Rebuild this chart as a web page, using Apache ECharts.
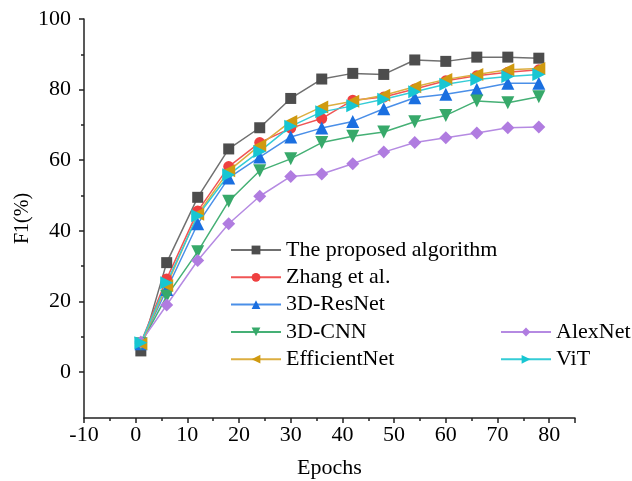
<!DOCTYPE html>
<html>
<head>
<meta charset="utf-8">
<script src="https://cdn.jsdelivr.net/npm/echarts@6.0.0/dist/echarts.min.js"></script>
<style>
  html, body { margin: 0; padding: 0; background: #fff; }
  #chart { width: 632px; height: 481px; }
</style>
</head>
<body>
<div id="chart"></div>
<script>
// 数据
var epochs = [1, 6, 12, 18, 24, 30, 36, 42, 48, 54, 60, 66, 72, 78];
var proposed    = [6.0, 31.0, 49.5, 63.2, 69.2, 77.5, 83.0, 84.6, 84.3, 88.4, 88.0, 89.2, 89.2, 88.9];
var zhang       = [8.3, 26.4, 45.6, 58.2, 65.0, 69.1, 71.8, 77.0, 77.9, 80.2, 82.5, 83.9, 84.9, 85.6];
var resnet3d    = [8.0, 23.4, 42.0, 55.0, 60.9, 66.6, 69.1, 71.0, 74.6, 77.7, 78.7, 80.1, 81.8, 81.8];
var cnn3d       = [8.0, 21.5, 34.1, 48.4, 57.0, 60.4, 65.0, 66.8, 68.0, 70.9, 72.7, 76.8, 76.3, 78.0];
var alexnet     = [8.5, 19.0, 31.6, 42.0, 49.8, 55.4, 56.1, 59.0, 62.3, 65.0, 66.4, 67.7, 69.2, 69.4];
var efficient   = [8.0, 24.5, 44.7, 57.0, 64.2, 71.0, 75.1, 76.7, 78.4, 80.8, 82.9, 84.3, 85.6, 86.0];
var vit         = [8.3, 25.3, 44.3, 55.9, 62.5, 69.6, 73.7, 75.4, 77.3, 79.4, 81.5, 82.9, 83.7, 84.3];
var yLabelTicks = [0, 20, 40, 60, 80, 100];
var yMinorTicks = [10, 30, 50, 70, 90];

function pairs(ys) {
    return epochs.map(function (x, i) { return [x, ys[i]]; });
}

var font = '"Liberation Serif", "Times New Roman", serif';

function mkSeries(name, ys, symbol, size, rotate, markColor, lineColor) {
    return {
        name: name,
        type: 'line',
        data: pairs(ys),
        symbol: symbol,
        symbolSize: size,
        symbolRotate: rotate,
        showAllSymbol: true,
        itemStyle: { color: markColor, opacity: 1 },
        lineStyle: { color: lineColor, width: 1.5 },
        emphasis: { disabled: true }
    };
}

var legendText = { fontFamily: font, fontSize: 22, color: '#000', lineHeight: 22 };

var myChart = echarts.init(document.getElementById('chart'));
var option = {
    animation: false,
    grid: { left: 84, right: 57, top: 19, bottom: 63, containLabel: false, outerBoundsMode: 'none' },
    legend: [{
        orient: 'vertical',
        left: 230,
        top: 239,
        padding: 0,
        itemWidth: 50,
        itemHeight: 11,
        itemGap: 5.3,
        textStyle: legendText,
        data: ['The proposed algorithm', 'Zhang et al.', '3D-ResNet', '3D-CNN', 'EfficientNet']
    }, {
        orient: 'vertical',
        left: 500,
        top: 321,
        padding: 0,
        itemWidth: 50,
        itemHeight: 11,
        itemGap: 5.3,
        textStyle: legendText,
        data: ['AlexNet', 'ViT']
    }],
    xAxis: {
        type: 'value',
        min: -10,
        max: 85,
        interval: 10,
        name: 'Epochs',
        nameLocation: 'middle',
        nameGap: 39,
        nameTextStyle: { fontFamily: font, fontSize: 22, color: '#000' },
        axisLine: { onZero: false, lineStyle: { color: '#222', width: 1.5 } },
        axisTick: { inside: false, length: 5, lineStyle: { color: '#222', width: 1.5 } },
        minorTick: { show: true, splitNumber: 2, length: 3, lineStyle: { color: '#222', width: 1.5 } },
        axisLabel: { fontFamily: font, fontSize: 22, color: '#000', margin: 6,
            showMaxLabel: false },
        splitLine: { show: false }
    },
    yAxis: [{
        type: 'value',
        min: -13,
        max: 100,
        name: 'F1(%)',
        nameLocation: 'middle',
        nameGap: 51,
        nameMoveOverlap: false,
        nameTextStyle: { fontFamily: font, fontSize: 20, color: '#000' },
        axisLine: { show: true, onZero: false, lineStyle: { color: '#222', width: 1.5 } },
        axisTick: { show: true, length: 5, customValues: yLabelTicks, lineStyle: { color: '#222', width: 1.5 } },
        axisLabel: { fontFamily: font, fontSize: 22, color: '#000', margin: 13, customValues: yLabelTicks },
        splitLine: { show: false }
    }, {
        type: 'value',
        min: -13,
        max: 100,
        position: 'left',
        axisLine: { show: false, onZero: false },
        axisTick: { show: true, length: 3, customValues: yMinorTicks, lineStyle: { color: '#222', width: 1.5 } },
        axisLabel: { show: false, customValues: yMinorTicks },
        splitLine: { show: false }
    }],
    series: [
        mkSeries('The proposed algorithm', proposed, 'rect', 11, 0, '#4d4d4d', '#707070'),
        mkSeries('Zhang et al.', zhang, 'circle', 11, 0, '#ef4040', '#f05555'),
        mkSeries('3D-ResNet', resnet3d, 'triangle', 13, 0, '#1a6fe0', '#4a8fe8'),
        mkSeries('3D-CNN', cnn3d, 'triangle', 13, 180, '#37a96a', '#45b075'),
        mkSeries('AlexNet', alexnet, 'diamond', 13, 0, '#b07ce0', '#b58ae2'),
        mkSeries('EfficientNet', efficient, 'triangle', 13, 90, '#d09a10', '#dcae40'),
        mkSeries('ViT', vit, 'triangle', 13, -90, '#17c6d2', '#35ccd6')
    ]
};
myChart.setOption(option);
</script>
</body>
</html>
